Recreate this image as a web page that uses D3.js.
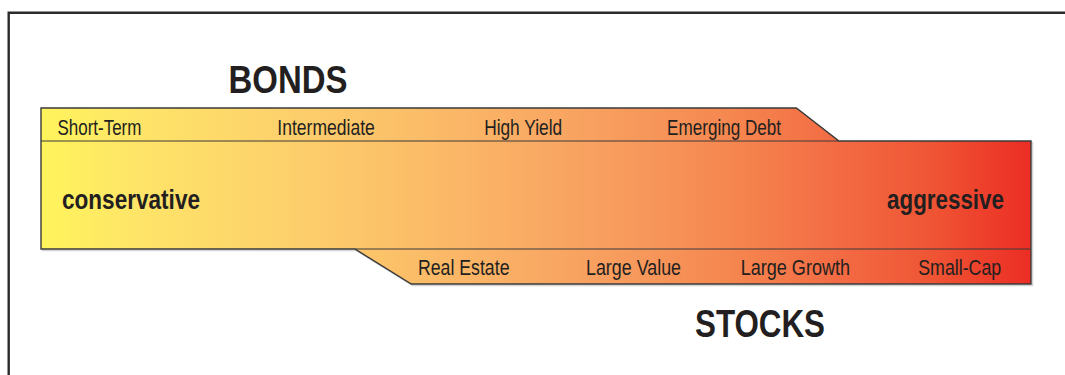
<!DOCTYPE html>
<html>
<head>
<meta charset="utf-8">
<script src="https://cdn.jsdelivr.net/npm/d3@7"></script>
<style>
  html, body { margin: 0; padding: 0; background: #fff; }
  svg { display: block; }
  text { fill: #231f20; }
  .lbl { font-family: "Liberation Sans Narrow", "Liberation Sans", Arial, sans-serif; }
  .bold { font-family: "Liberation Sans", Arial, sans-serif; font-weight: bold; }
</style>
</head>
<body>
<svg id="chart" width="1065" height="375"></svg>
<script>
// ---- data ----
const bondCategories = ["Short-Term", "Intermediate", "High Yield", "Emerging Debt"];
const bondRisk = [5.9, 28.8, 48.7, 69.0];          // position on the risk spectrum (0-100)
const stockCategories = ["Real Estate", "Large Value", "Large Growth", "Small-Cap"];
const stockRisk = [42.7, 59.85, 76.2, 92.8];
const spectrumEnds = ["conservative", "aggressive"];
const groupTitles = ["BONDS", "STOCKS"];
const bondSpan = [0, 76.3, 80.6];                   // bond band: start, end of top, end of slant
const stockSpan = [31.7, 37.4, 100];                // stock band: slant start, slant end, end

// ---- layout ----
const svg = d3.select("#chart");
const x = d3.scaleLinear().domain([0, 100]).range([41, 1031]);
const yTop = 108, yMainTop = 141, yMainBot = 249, yBot = 284;

// label fitted widths (layout only)
const fitW = {
  "Short-Term": 84, "Intermediate": 97.5, "High Yield": 78, "Emerging Debt": 114,
  "Real Estate": 91.5, "Large Value": 95, "Large Growth": 109.5, "Small-Cap": 83,
  "conservative": 138, "aggressive": 117, "BONDS": 119, "STOCKS": 130
};

// frame
svg.append("path")
  .attr("d", `M8.7,375 L8.7,12.7 L1065,12.7`)
  .attr("fill", "none").attr("stroke", "#2b2b2b").attr("stroke-width", 2.4);

// gradient
const defs = svg.append("defs");
const grad = defs.append("linearGradient").attr("id", "risk")
  .attr("gradientUnits", "userSpaceOnUse")
  .attr("x1", x(0)).attr("x2", x(100)).attr("y1", 0).attr("y2", 0);
const stops = [
  [0, "#fff45c"], [0.1, "#fee468"], [0.25, "#fdd06c"], [0.4, "#fbba67"],
  [0.5, "#f9aa64"], [0.6, "#f7995c"], [0.7, "#f5864f"], [0.8, "#f36c44"],
  [0.9, "#ef5534"], [1, "#ec2d24"]
];
grad.selectAll("stop").data(stops).join("stop")
  .attr("offset", d => d[0]).attr("stop-color", d => d[1]);

const outline = [
  [x(bondSpan[0]), yTop], [x(bondSpan[1]), yTop], [x(bondSpan[2]), yMainTop],
  [x(100), yMainTop], [x(stockSpan[2]), yBot], [x(stockSpan[1]), yBot],
  [x(stockSpan[0]), yMainBot], [x(0), yMainBot]
];
const line = d3.line();

// soft shadow
svg.append("path")
  .attr("d", line(outline) + "Z")
  .attr("transform", "translate(1.5,1.5)")
  .attr("fill", "none").attr("stroke", "#d4d4d4").attr("stroke-width", 1.5);

svg.append("path")
  .attr("d", line(outline) + "Z")
  .attr("fill", "url(#risk)")
  .attr("stroke", "#3a3a3a").attr("stroke-width", 1.4).attr("stroke-linejoin", "miter");

// internal divider lines
svg.append("path")
  .attr("d", line([[x(0), yMainTop], [x(bondSpan[2]), yMainTop]]))
  .attr("stroke", "#3a3a3a").attr("stroke-width", 1.2).attr("fill", "none");
svg.append("path")
  .attr("d", line([[x(stockSpan[0]), yMainBot], [x(100), yMainBot]]))
  .attr("stroke", "#3a3a3a").attr("stroke-width", 1.2).attr("fill", "none");

// category labels
function labels(cats, risks, baseline) {
  svg.append("g").selectAll("text")
    .data(cats.map((c, i) => ({ c, r: risks[i] })))
    .join("text")
    .attr("class", "lbl")
    .attr("x", d => x(d.r)).attr("y", baseline)
    .attr("text-anchor", "middle")
    .attr("font-size", 22.5)
    .attr("textLength", d => fitW[d.c]).attr("lengthAdjust", "spacingAndGlyphs")
    .text(d => d.c);
}
labels(bondCategories, bondRisk, 135);
labels(stockCategories, stockRisk, 274.5);

// spectrum ends
svg.append("text").attr("class", "bold").attr("x", 62).attr("y", 208.5)
  .attr("font-size", 27)
  .attr("textLength", fitW[spectrumEnds[0]]).attr("lengthAdjust", "spacingAndGlyphs")
  .text(spectrumEnds[0]);
svg.append("text").attr("class", "bold").attr("x", 1004).attr("y", 208.5).attr("text-anchor", "end")
  .attr("font-size", 27)
  .attr("textLength", fitW[spectrumEnds[1]]).attr("lengthAdjust", "spacingAndGlyphs")
  .text(spectrumEnds[1]);

// group titles
svg.append("text").attr("class", "bold").attr("x", 228.5).attr("y", 93.3)
  .attr("font-size", 39)
  .attr("textLength", fitW[groupTitles[0]]).attr("lengthAdjust", "spacingAndGlyphs")
  .text(groupTitles[0]);
svg.append("text").attr("class", "bold").attr("x", 695).attr("y", 337.3)
  .attr("font-size", 39)
  .attr("textLength", fitW[groupTitles[1]]).attr("lengthAdjust", "spacingAndGlyphs")
  .text(groupTitles[1]);
</script>
</body>
</html>
